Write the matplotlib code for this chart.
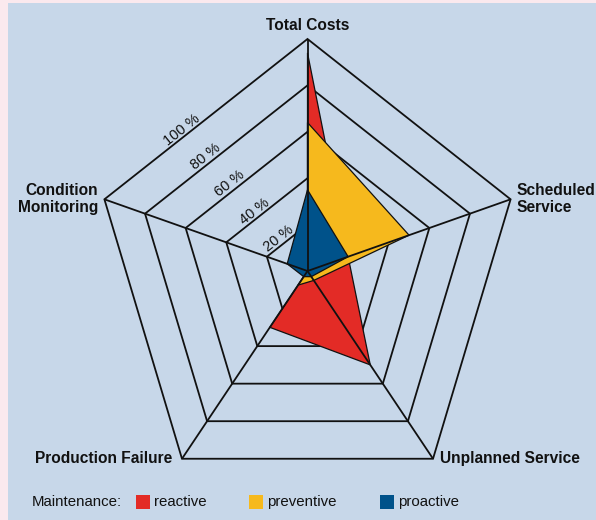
import numpy as np
import matplotlib
matplotlib.use("Agg")
import matplotlib.pyplot as plt
from matplotlib.patches import Polygon, Rectangle

plt.rcParams['font.family'] = ['Liberation Sans', 'DejaVu Sans']

# axes of the radar, clockwise from the top
axis_labels = ["Total Costs", "Scheduled\nService", "Unplanned Service",
               "Production Failure", "Condition\nMonitoring"]
ring_levels = [20, 40, 60, 80, 100]
ring_labels = ["20 %", "40 %", "60 %", "80 %", "100 %"]

# values in % per axis
reactive = [94, 20, 50, 30, 0]
preventive = [64, 50, 5, 7.5, 0]
proactive = [35, 20, 3, 3, 10]

series = [reactive, preventive, proactive]
series_names = ["reactive", "preventive", "proactive"]
series_colors = ["#e32b26", "#f6b91d", "#00528a"]

bg = "#c7d7e9"
ink = "#111111"

fig = plt.figure(figsize=(5.96, 5.2), dpi=100)
fig.patch.set_facecolor("#fbe9ee")
fig.add_artist(Rectangle((8 / 596, 0), 1, 1 - 3 / 520, transform=fig.transFigure,
                         facecolor=bg, edgecolor="none", zorder=0))

# data units: 1 unit = 1 %, chart is a bit narrower than tall
ax = fig.add_axes([0, 0, 1, 1])
ax.set_xlim(-144.0, 135.1)
ax.set_ylim(-107.3, 116.8)
ax.axis("off")

theta = np.deg2rad(np.arange(len(axis_labels)) * 72)
sx, cy = np.sin(theta), np.cos(theta)

# rings
for lv in ring_levels:
    ax.add_patch(Polygon(np.c_[lv * sx, lv * cy], closed=True, fill=False,
                         edgecolor=ink, lw=1.3, zorder=1))

# series
for i, (vals, col) in enumerate(zip(series, series_colors)):
    v = np.array(vals, dtype=float)
    ax.add_patch(Polygon(np.c_[v * sx, v * cy], closed=True, facecolor=col,
                         edgecolor=ink, lw=0.9, zorder=2 + i))

# spokes on top
for x, y in zip(sx, cy):
    ax.plot([0, 100 * x], [0, 100 * y], color=ink, lw=1.3, zorder=6,
            solid_capstyle="butt")

# axis labels
offsets = [(0, 10), (4.3, 0), (5, 0), (-7, 0), (-4.3, 0)]
aligns = ["center", "left", "left", "right", "right"]
for lab, x, y, off, ha in zip(axis_labels, sx, cy, offsets, aligns):
    ax.annotate(lab, xy=(100 * x, 100 * y), xytext=off, textcoords="offset points",
                ha=ha, va="center", fontsize=11.2, fontweight="bold", color=ink,
                linespacing=1.15)

# ring labels along the edge Total Costs -> Condition Monitoring
fig.canvas.draw()
for lv, lab in zip(ring_levels, ring_labels):
    top = np.array([lv * sx[0], lv * cy[0]])
    cm = np.array([lv * sx[4], lv * cy[4]])
    p0 = ax.transData.transform(top)
    p1 = ax.transData.transform(cm)
    ang = np.degrees(np.arctan2(p0[1] - p1[1], p0[0] - p1[0]))
    pos = top + 0.6 * (cm - top)
    ax.annotate(lab, xy=pos, xytext=(-1.3, 1.7), textcoords="offset points",
                rotation=ang, rotation_mode="anchor", ha="center", va="baseline",
                fontsize=10.5, color=ink, zorder=7)

# legend
W, H = 596, 520
fig.text(32 / W, 1 - 502 / H, "Maintenance:", fontsize=10.8, color=ink,
         ha="left", va="center")
sq_x = [136, 249, 380]
txt_x = [154, 267, 398]
for name, col, x0, x1 in zip(series_names, series_colors, sq_x, txt_x):
    fig.add_artist(Rectangle((x0 / W, 1 - 509 / H), 14 / W, 14 / H,
                             transform=fig.transFigure, facecolor=col,
                             edgecolor="none"))
    fig.text(x1 / W, 1 - 502 / H, name, fontsize=10.8, color=ink,
             ha="left", va="center")

fig.savefig("out.png", dpi=100, facecolor=fig.get_facecolor())
